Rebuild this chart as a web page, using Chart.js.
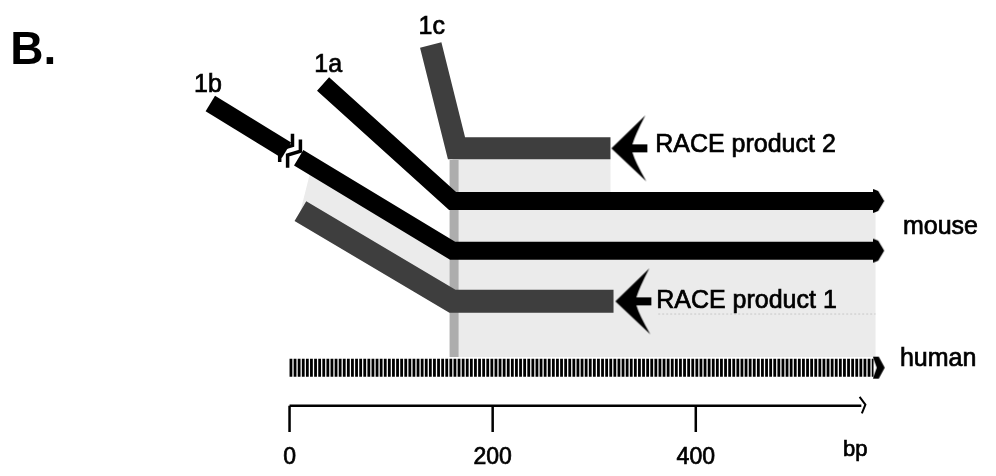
<!DOCTYPE html>
<html><head><meta charset="utf-8">
<script src="https://cdn.jsdelivr.net/npm/chart.js@4/dist/chart.umd.min.js"></script>
<style>html,body{margin:0;padding:0;background:#fff}#c{display:block}</style>
</head><body>
<canvas id="c" width="996" height="476"></canvas>
<script>
// x values are positions in bp, y values are track rows (0 = top of figure)
const exon1aPath   = [[33, 80], [160.5, 200], [575, 200]];
const exon1bPart1  = [[-78, 100], [-3, 148]];
const exon1bPart2  = [[9, 155.7], [160.5, 251], [575, 251]];
const race2Path    = [[139, 40], [164.4, 146], [316, 146]];
const race1Path    = [[10.7, 210.5], [160.5, 303], [319, 303]];
const humanTrack   = [[0, 371], [575, 371]];
const conservedRegion = [[22, 164], [160.5, 251], [160.5, 157], [316, 157], [316, 200], [577, 200],
                         [577, 360], [160.5, 360], [160.5, 303], [10.7, 210.5]];
const regionEdge   = [[162, 158], [162, 360]];
const regionFaint  = [[363, 316], [577, 316]];
const breakMarkA   = [[2.9, 131], [2.9, 143], [-9.7, 147], [-9.7, 160]];
const breakMarkB   = [[10.7, 137], [10.7, 149], [-1.9, 153], [-1.9, 166]];
const mouseEnds    = [[580.6, 200], [580.6, 251]];
const humanEnd     = [[580.6, 371]];
const raceArrows   = [[334.6, 146], [338.5, 303]];
const scaleLine    = [[0, 410], [563, 410]];
const scaleEnd     = [[561.3, 401], [567, 409], [563.5, 418]];
const tickValues   = [0, 200, 400];
const tickLabels   = ['0', '200', '400'];
const tickTop = 410, tickBottom = 437, tickLabelRow = 470;
const unitLabel    = ['bp', 557, 462];
const exonLabels   = ['1b', '1a', '1c'];
const exonLabelX   = [-94, 24.3, 127];
const exonLabelY   = [88, 68, 29];
const productLabels = ['RACE product 2', 'RACE product 1'];
const productLabelX = [360, 361];
const productLabelY = [150, 310];
const speciesLabels = ['mouse', 'human'];
const speciesLabelX = [604, 601];
const speciesLabelY = [234, 369];
const panelLabel    = ['B.', -275, 60];

const DARK = '#3e3e3e', BLACK = '#000000';
const FONT = '"Liberation Sans", Arial, sans-serif';

function mk(w, h, draw) {
  const c = document.createElement('canvas'); c.width = w; c.height = h;
  const g = c.getContext('2d'); g.fillStyle = '#000'; draw(g); return c;
}
const bigArrow = mk(38, 68, g => {
  g.beginPath(); g.moveTo(1, 34); g.lineTo(35, 1);
  g.quadraticCurveTo(25, 20, 22, 30); g.lineTo(37, 30); g.lineTo(37, 38); g.lineTo(22, 38);
  g.quadraticCurveTo(25, 48, 36, 67); g.closePath(); g.fill();
});
const smallArrow = mk(12, 26, g => {
  g.beginPath(); g.moveTo(0, 1); g.lineTo(5, 3); g.lineTo(11, 13); g.lineTo(5, 23); g.lineTo(0, 25); g.closePath(); g.fill();
});
const humanArrow = mk(13, 24, g => {
  g.beginPath(); g.moveTo(0, 1); g.lineTo(6, 1); g.lineTo(12, 12); g.lineTo(6, 23); g.lineTo(0, 23); g.lineTo(4, 12); g.closePath(); g.fill();
});

const pts = a => a.map(([x, y]) => ({x, y}));
function path(data, color, width, order, extra) {
  return Object.assign({type: 'line', data: pts(data), borderColor: color, borderWidth: width,
    pointRadius: 0, fill: false, tension: 0, borderCapStyle: 'butt', borderJoinStyle: 'miter',
    order: order, clip: false}, extra || {});
}
function marks(data, img, order) {
  return {type: 'line', data: pts(data), showLine: false, pointStyle: img, pointRadius: 6,
    borderWidth: 0, backgroundColor: '#000', order: order, clip: false};
}

const datasets = [
  path(conservedRegion, 'rgba(0,0,0,0)', 0, 100, {fill: 'shape', backgroundColor: '#ebebeb'}),
  path(regionEdge, '#adadad', 9, 90),
  path(regionFaint, '#c8c8c8', 1, 90, {borderDash: [2, 2]}),
  path(humanTrack, BLACK, 18, 50, {borderDash: [2.8, 1.3]}),
  path(race1Path, DARK, 23, 40),
  path(exon1bPart1, BLACK, 18, 30),
  path(exon1bPart2, BLACK, 18, 30),
  path(exon1aPath, BLACK, 18, 30),
  path(race2Path, DARK, 22, 40),
  path(breakMarkA, BLACK, 3.5, 20),
  path(breakMarkB, BLACK, 3.5, 20),
  marks(mouseEnds, smallArrow, 10),
  marks(humanEnd, humanArrow, 10),
  marks(raceArrows, bigArrow, 10),
  path(scaleLine, BLACK, 2.5, 10),
  path(scaleEnd, BLACK, 2, 10),
];
tickValues.forEach(v => datasets.push(path([[v, tickTop], [v, tickBottom]], BLACK, 2.5, 10)));

const textPlugin = {
  id: 'texts',
  afterDatasetsDraw(chart) {
    const {ctx, scales: {x, y}} = chart;
    ctx.save();
    ctx.fillStyle = '#000';
    ctx.strokeStyle = '#000';
    ctx.lineWidth = 0.7;
    ctx.textBaseline = 'alphabetic';
    const put = (t, bx, by, font, align, stroke) => {
      ctx.font = font; ctx.textAlign = align;
      const px = x.getPixelForValue(bx), py = y.getPixelForValue(by);
      ctx.fillText(t, px, py);
      if (stroke) ctx.strokeText(t, px, py);
    };
    put(panelLabel[0], panelLabel[1], panelLabel[2], 'bold 46px ' + FONT, 'left', false);
    exonLabels.forEach((t, i) => put(t, exonLabelX[i], exonLabelY[i], '25px ' + FONT, 'left', true));
    productLabels.forEach((t, i) => put(t, productLabelX[i], productLabelY[i], '25px ' + FONT, 'left', true));
    speciesLabels.forEach((t, i) => put(t, speciesLabelX[i], speciesLabelY[i], '25px ' + FONT, 'left', true));
    tickValues.forEach((v, i) => put(tickLabels[i], v, tickLabelRow, '23px ' + FONT, 'center', true));
    put(unitLabel[0], unitLabel[1], unitLabel[2], '22px ' + FONT, 'center', true);
    ctx.restore();
  }
};

new Chart(document.getElementById('c'), {
  type: 'line',
  data: {datasets},
  options: {
    responsive: false, animation: false, devicePixelRatio: 1, events: [],
    layout: {padding: 0},
    plugins: {legend: {display: false}, tooltip: {enabled: false}},
    scales: {
      x: {type: 'linear', display: false, min: -287 / 1.028, max: (996 - 287) / 1.028},
      y: {type: 'linear', display: false, min: 0, max: 476, reverse: true}
    }
  },
  plugins: [textPlugin]
});
</script>
</body></html>
